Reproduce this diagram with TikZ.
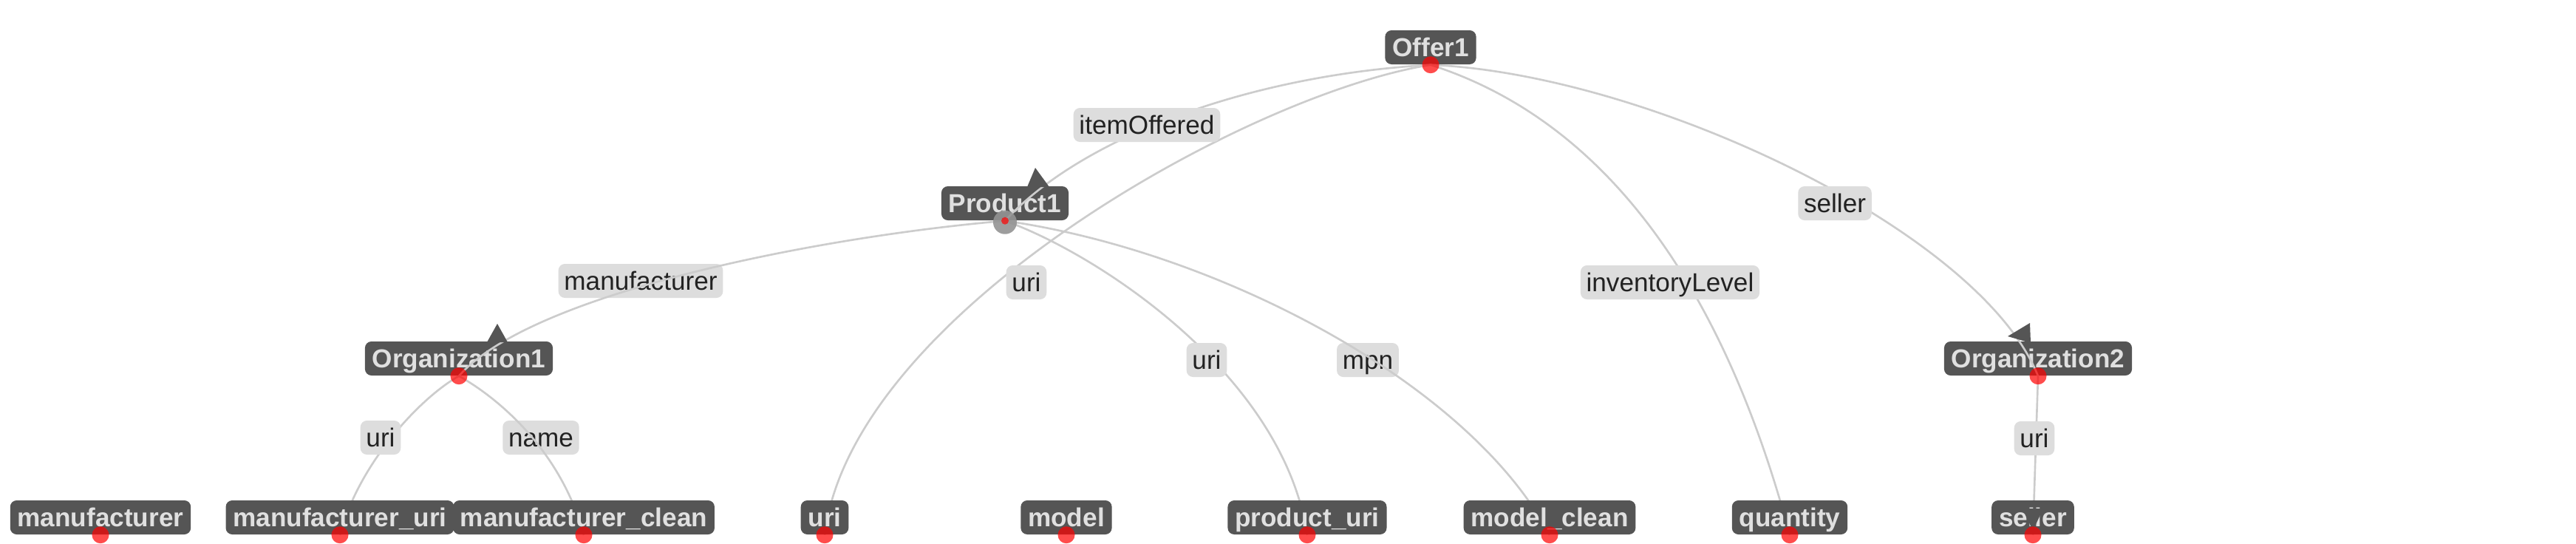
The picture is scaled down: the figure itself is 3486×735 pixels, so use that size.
\documentclass[tikz,border=0pt]{standalone}
\usepackage{fontspec}
\setmainfont{Liberation Sans}
\definecolor{nodegray}{HTML}{555555}
\definecolor{nodetext}{HTML}{E0E0E0}
\definecolor{lblgray}{HTML}{DDDDDD}
\definecolor{lbltext}{HTML}{222222}
\definecolor{linkgray}{HTML}{CCCCCC}
\definecolor{dotred}{HTML}{FF0000}
\pgfdeclarelayer{back}
\pgfdeclarelayer{lines}
\pgfsetlayers{back,lines,main}

\begin{document}
\begin{tikzpicture}[x=0.01cm,y=-0.01cm,
  box/.style={rectangle,rounded corners=2.5pt,minimum height=0.46cm,
    inner ysep=0pt,text height=7.6pt,text depth=0.4pt},
  cls/.style={box,fill=nodegray,text=nodetext,inner xsep=2.8pt,font=\fontsize{10}{12}\selectfont\bfseries},
  prop/.style={box,fill=lblgray,text=lbltext,inner xsep=2.2pt,font=\fontsize{10}{12}\selectfont},
  link/.style={draw=linkgray,line width=0.75pt},
  dot/.style={fill=dotred,opacity=0.7}]
  \useasboundingbox (0,0) rectangle (3486,735);
  \begin{pgfonlayer}{back}
    \fill[white] (0,0) rectangle (3486,735);
    \node[cls] (offer) at (1936,64) {Offer1};
    \node[cls] (prod) at (1360,275) {Product1};
    \node[cls] (org1) at (621,485) {Organization1};
    \node[cls] (org2) at (2758,485) {Organization2};
    % labels that the links run over
    \node[prop] (manuf) at (867,380) {manufacturer};
    \node[prop] (mpn) at (1851,487) {mpn};
    \node[prop] (name) at (732,592) {name};
  \end{pgfonlayer}

  % column nodes
  \node[cls] (manfcol) at (136,700) {manufacturer};
  \node[cls] (manuri) at (460,700) {manufacturer\_uri};
  \node[cls] (manclean) at (790,700) {manufacturer\_clean};
  \node[cls] (uricol) at (1116,700) {uri};
  \node[cls] (model) at (1443,700) {model};
  \node[cls] (produri) at (1769,700) {product\_uri};
  \node[cls] (mclean) at (2097,700) {model\_clean};
  \node[cls] (qty) at (2422,700) {quantity};
  \node[cls] (sellcol) at (2751,700) {seller};

  \begin{pgfonlayer}{lines}
    \draw[link] (offer.south) .. controls (1686,102) and (1462,188) .. (prod.south);
    \draw[link] (offer.south) .. controls (1688,127) and (1152,426) .. (uricol.south);
    \draw[link] (offer.south) .. controls (2208,175) and (2348,447) .. (qty.south);
    \draw[link] (offer.south) .. controls (2230,100) and (2680,313) .. (org2.south);
    \draw[link] (prod.south) .. controls (1110,320) and (720,396) .. (org1.south);
    \draw[link] (prod.south) .. controls (1482,342) and (1736,505) .. (produri.south);
    \draw[link] (prod.south) .. controls (1650,340) and (1990,520) .. (mclean.south);
    \draw[link] (org1.south) .. controls (569,538) and (486,626) .. (manuri.south);
    \draw[link] (org1.south) .. controls (682,543) and (761,616) .. (manclean.south);
    \draw[link] (org2.south) -- (sellcol.south);
  \end{pgfonlayer}

  \node[prop] (itemoff) at (1552,169) {itemOffered};
  \node[prop] (sell) at (2483,275) {seller};
  \node[prop] (uri1) at (1389,382) {uri};
  \node[prop] (inv) at (2260,382) {inventoryLevel};
  \node[prop] (uri2) at (1633,487) {uri};
  \node[prop] (uri3) at (515,592) {uri};
  \node[prop] (uri4) at (2753,593) {uri};

  % arrow heads
  \fill[nodegray] (1401,227) -- (1390,253) -- (1420,253) -- cycle;
  \fill[nodegray] (673,438) -- (659,463) -- (687,463) -- cycle;
  \fill[nodegray] (2747,437) -- (2717,455) -- (2748,464) -- cycle;
  \fill[nodegray] (2737,688) -- (2765,688) -- (2751,718) -- cycle;

  \fill[gray!85,opacity=0.9] (prod.south) ++(0,2) circle(0.16cm);
  \fill[dot] (prod.south) circle(0.05cm);
  \foreach \n in {offer,org1,org2,manfcol,manuri,manclean,uricol,model,produri,mclean,qty,sellcol}
    \fill[dot] (\n.south) circle(0.115cm);
\end{tikzpicture}
\end{document}
